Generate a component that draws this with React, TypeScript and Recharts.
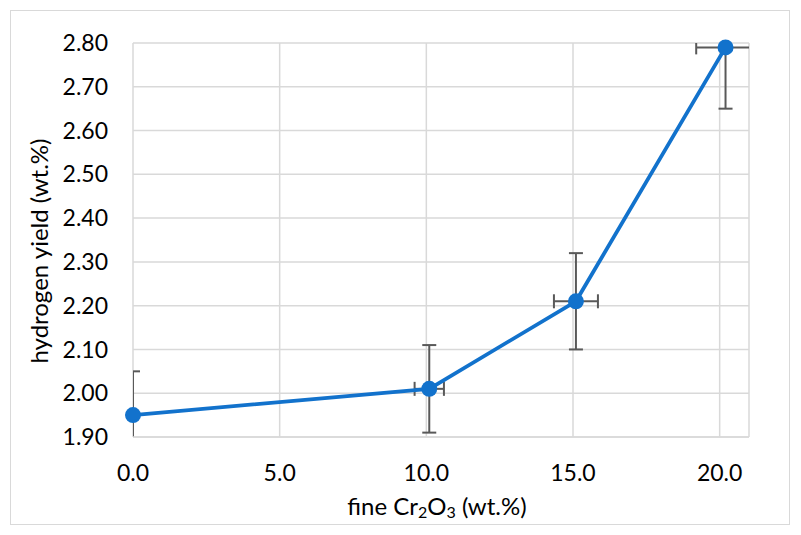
import React from "react";
import * as R from "recharts";
import {
  CartesianGrid,
  ErrorBar,
  Label,
  Scatter,
  ScatterChart,
  XAxis,
  YAxis,
} from "recharts";

// fine Cr2O3 content (wt.%)
const crContent = [0, 10.1, 15.1, 20.2];
// hydrogen yield (wt.%)
const hydrogenYield = [1.95, 2.01, 2.21, 2.79];
const yieldError = [0.1, 0.1, 0.11, 0.14];
const contentError = [0, 0.5, 0.75, 1.0];

const xTicks = [0, 5, 10, 15, 20];
const yTicks = [1.9, 2.0, 2.1, 2.2, 2.3, 2.4, 2.5, 2.6, 2.7, 2.8];

const data = crContent.map((x, i) => ({
  x,
  y: hydrogenYield[i],
  ex: contentError[i],
  ey: yieldError[i],
}));

const BLUE = "#1272CC";
const GRID = "#d9d9d9";
const FONT = "Lato, 'Noto Sans', sans-serif";

const tickStyle = { fontSize: 23, fill: "#000", fontFamily: FONT };

// clip error bars to the plot area, like the original chart does
function PlotClip() {
  const usePlotArea = (R as any).usePlotArea;
  const area = usePlotArea ? usePlotArea() : null;
  if (!area) return null;
  return (
    <defs>
      <clipPath id="plot-clip">
        <rect x={area.x} y={area.y} width={area.width} height={area.height} />
      </clipPath>
      <style>{`.recharts-errorBar { clip-path: url(#plot-clip); }`}</style>
    </defs>
  );
}

function YTitle(props: any) {
  const { viewBox } = props;
  const cx = 38;
  const cy = viewBox.y + viewBox.height / 2 + 11;
  return (
    <text
      x={cx}
      y={cy}
      transform={`rotate(-90 ${cx} ${cy})`}
      textAnchor="middle"
      dominantBaseline="central"
      fontSize={24}
      fontFamily={FONT}
      fill="#000"
    >
      hydrogen yield (wt.%)
    </text>
  );
}

function XTitle(props: any) {
  const { viewBox } = props;
  const cx = viewBox.x + viewBox.width / 2 - 4;
  const cy = 505;
  return (
    <text
      x={cx}
      y={cy}
      textAnchor="middle"
      dominantBaseline="central"
      fontSize={24}
      fontFamily={FONT}
      fill="#000"
    >
      fine Cr
      <tspan fontSize={16} dy={6}>2</tspan>
      <tspan dy={-6}>O</tspan>
      <tspan fontSize={16} dy={6}>3</tspan>
      <tspan dy={-6}> (wt.%)</tspan>
    </text>
  );
}

export default function App() {
  return (
    <div style={{ position: "absolute", left: 0, top: 0, width: 801, height: 535, background: "#fff" }}>
      <div
        style={{
          position: "absolute",
          left: 10,
          top: 10,
          width: 778,
          height: 513,
          border: `1.5px solid ${GRID}`,
        }}
      />
      <ScatterChart
        width={801}
        height={535}
        margin={{ top: 43, right: 52, bottom: 38, left: 73 }}
        style={{ position: "absolute", left: 0, top: 0 }}
      >
        <PlotClip />
        <CartesianGrid stroke={GRID} strokeWidth={1.5} />
        <XAxis
          type="number"
          dataKey="x"
          domain={[0, 21]}
          ticks={xTicks}
          allowDataOverflow
          height={60}
          tickSize={0}
          tickMargin={28}
          tickLine={false}
          axisLine={{ stroke: GRID, strokeWidth: 1.5 }}
          tick={tickStyle}
          tickFormatter={(v: number) => v.toFixed(1)}
        >
          <Label content={<XTitle />} />
        </XAxis>
        <YAxis
          type="number"
          dataKey="y"
          domain={[1.9, 2.8]}
          ticks={yTicks}
          allowDataOverflow
          width={60}
          tickSize={0}
          tickMargin={25}
          tickLine={false}
          axisLine={false}
          tick={tickStyle}
          tickFormatter={(v: number) => v.toFixed(2)}
        >
          <Label content={<YTitle />} />
        </YAxis>
        <XAxis xAxisId="m" type="number" dataKey="x" domain={[0, 21]} hide />
        <YAxis yAxisId="m" type="number" dataKey="y" domain={[1.9, 2.8]} hide />

        <Scatter data={data} isAnimationActive={false} shape={() => <g />}>
          <ErrorBar dataKey="ey" direction="y" stroke="#595959" strokeWidth={2} width={7} />
          <ErrorBar dataKey="ex" direction="x" stroke="#595959" strokeWidth={2} width={7} />
        </Scatter>
        <Scatter
          data={data}
          xAxisId="m"
          yAxisId="m"
          isAnimationActive={false}
          line={{ stroke: BLUE, strokeWidth: 3.8 }}
          shape={(p: any) => <circle cx={p.cx} cy={p.cy} r={8} fill={BLUE} />}
        />
      </ScatterChart>
    </div>
  );
}
